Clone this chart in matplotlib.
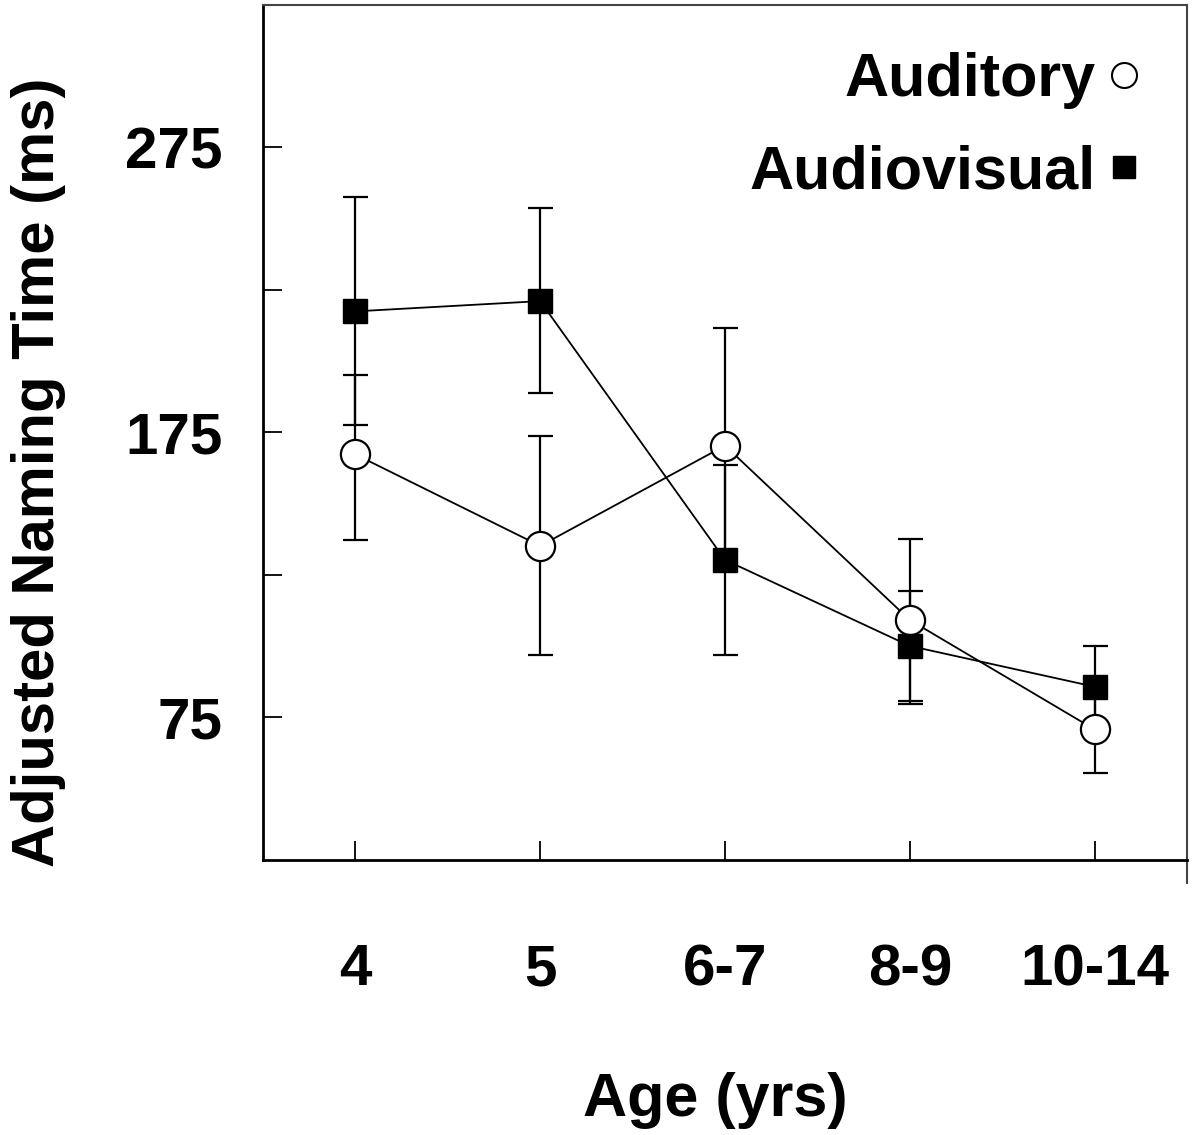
import matplotlib
matplotlib.use("Agg")
import matplotlib.pyplot as plt
from matplotlib.lines import Line2D
from matplotlib import font_manager

# data
ages = ["4", "5", "6-7", "8-9", "10-14"]
auditory = [167.3, 135.2, 170.4, 109.2, 70.8]
auditory_lo = [30.0, 38.1, 41.4, 28.5, 15.2]
auditory_hi = [27.7, 38.7, 41.4, 28.5, 15.2]
audiovisual = [217.5, 221.1, 130.3, 100.1, 85.8]
audiovisual_lo = [39.9, 32.3, 33.4, 20.5, 14.3]
audiovisual_hi = [40.2, 32.8, 33.4, 19.3, 14.3]
yticks = [75, 125, 175, 225, 275]
ytick_labels = ["75", "", "175", "", "275"]

plt.rcParams["font.family"] = ["Liberation Sans", "DejaVu Sans"]
plt.rcParams["font.weight"] = "bold"
plt.rcParams["axes.labelweight"] = "bold"

installed = {f.name for f in font_manager.fontManager.ttflist}
narrow = "Liberation Sans Narrow" if "Liberation Sans Narrow" in installed else "Liberation Sans"

fig = plt.figure(figsize=(11.95, 11.35), dpi=100)
ax = fig.add_axes([0.2201, 0.2423, 0.7732, 0.7533])

x = list(range(len(ages)))

# error bars first, markers on top
ax.errorbar(x, auditory, yerr=[auditory_lo, auditory_hi], fmt="none",
            ecolor="black", elinewidth=1.6, capsize=9, capthick=1.6, zorder=2)
ax.errorbar(x, audiovisual, yerr=[audiovisual_lo, audiovisual_hi], fmt="none",
            ecolor="black", elinewidth=1.6, capsize=9, capthick=1.6, zorder=2)

ax.plot(x, auditory, color="black", lw=1.3, marker="o", markersize=21,
        markerfacecolor="white", markeredgecolor="black", markeredgewidth=1.6, zorder=3)
ax.plot(x, audiovisual, color="black", lw=1.3, marker="s", markersize=17,
        markerfacecolor="black", markeredgecolor="black", zorder=4)

ax.set_xlim(-0.5, 4.5)
ax.set_ylim(25, 325)

ax.set_yticks(yticks)
ax.set_yticklabels(ytick_labels)
ax.set_xticks(x)
ax.set_xticklabels(ages, family=narrow)

ax.tick_params(axis="y", direction="in", length=14, width=1.3, pad=29, labelsize=42)
ax.tick_params(axis="x", direction="in", length=14, width=1.3, pad=60, labelsize=42)

for side in ["left", "bottom"]:
    ax.spines[side].set_linewidth(2)
    ax.spines[side].set_color("black")
for side in ["top", "right"]:
    ax.spines[side].set_linewidth(1.5)
    ax.spines[side].set_color("#444444")

# little stub of the right frame line below the axis
ax.add_line(Line2D([1, 1], [0, -0.027], transform=ax.transAxes,
                   color="#444444", lw=1.5, clip_on=False))

ax.set_xlabel("Age (yrs)", fontsize=44, fontweight="bold", va="center")
ax.xaxis.set_label_coords(0.49, -0.281)
ax.set_ylabel("Adjusted Naming Time (ms)", fontsize=43, fontweight="bold", va="center")
ax.yaxis.set_label_coords(-0.243, 0.454)

handles = [
    Line2D([], [], ls="none", marker="o", markersize=18, markerfacecolor="white",
           markeredgecolor="black", markeredgewidth=1.5),
    Line2D([], [], ls="none", marker="s", markersize=16, markerfacecolor="black",
           markeredgecolor="black"),
]
ax.legend(handles, ["Auditory", "Audiovisual"], loc="upper right",
          bbox_to_anchor=(0.995, 0.995), markerfirst=False, frameon=False,
          prop={"size": 44, "weight": "bold"}, handlelength=0.5,
          handletextpad=0.22, borderpad=0, borderaxespad=0.7, labelspacing=0.58)

fig.savefig("out.png", dpi=100)
